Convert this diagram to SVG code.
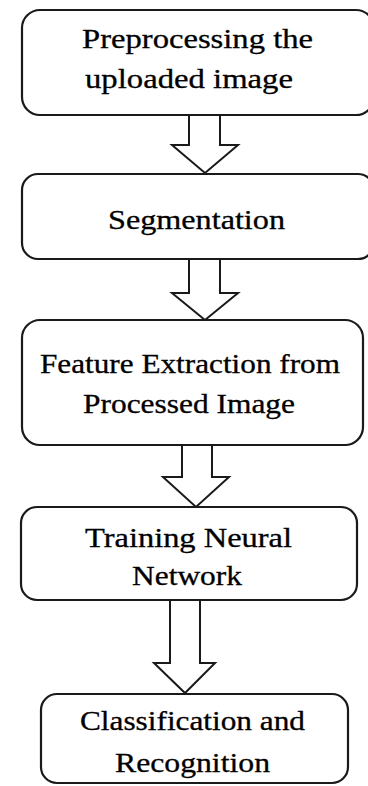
<svg xmlns="http://www.w3.org/2000/svg" width="368" height="786" viewBox="0 0 368 786">
<style>
.box{fill:#fff;stroke:#1a1a1a;stroke-width:2.2}
.arr{fill:#fff;stroke:#1a1a1a;stroke-width:2;stroke-linejoin:miter}
text{font-family:"Liberation Serif","Times New Roman",serif;font-size:27px;fill:#000;stroke:#000;stroke-width:0.3}
</style>
<rect width="368" height="786" fill="#fff"/>
<g id="connectors">
<polygon class="arr" points="189,115 220,115 220,145 238,145 205,173 172,145 189,145"/>
<polygon class="arr" points="189,259 220,259 220,293 238,293 205,320 172,293 189,293"/>
<polygon class="arr" points="182,445 212,445 212,477 229,477 196,507 163,477 182,477"/>
<polygon class="arr" points="170,600 200,600 200,663 215,663 185,693 154,663 170,663"/>
</g>
<g id="n1">
<rect class="box" x="22" y="10" width="352" height="105" rx="18"/>
<text x="82" y="48" textLength="231" lengthAdjust="spacingAndGlyphs">Preprocessing  the</text>
<text x="85" y="88" textLength="208" lengthAdjust="spacingAndGlyphs">uploaded image</text>
</g>
<g id="n2">
<rect class="box" x="22" y="174" width="352" height="85" rx="16"/>
<text x="108" y="229" textLength="177" lengthAdjust="spacingAndGlyphs">Segmentation</text>
</g>
<g id="n3">
<rect class="box" x="22" y="320" width="341" height="125" rx="18"/>
<text x="40" y="373" textLength="300" lengthAdjust="spacingAndGlyphs">Feature Extraction from</text>
<text x="83" y="413" textLength="212" lengthAdjust="spacingAndGlyphs">Processed Image</text>
</g>
<g id="n4">
<rect class="box" x="21" y="507" width="336" height="93" rx="16"/>
<text x="85" y="547" textLength="207" lengthAdjust="spacingAndGlyphs">Training Neural</text>
<text x="132" y="585" textLength="110" lengthAdjust="spacingAndGlyphs">Network</text>
</g>
<g id="n5">
<rect class="box" x="41" y="694" width="307" height="89" rx="16"/>
<text x="80" y="730" textLength="225" lengthAdjust="spacingAndGlyphs">Classification and</text>
<text x="115" y="772" textLength="155" lengthAdjust="spacingAndGlyphs">Recognition</text>
</g>
</svg>
